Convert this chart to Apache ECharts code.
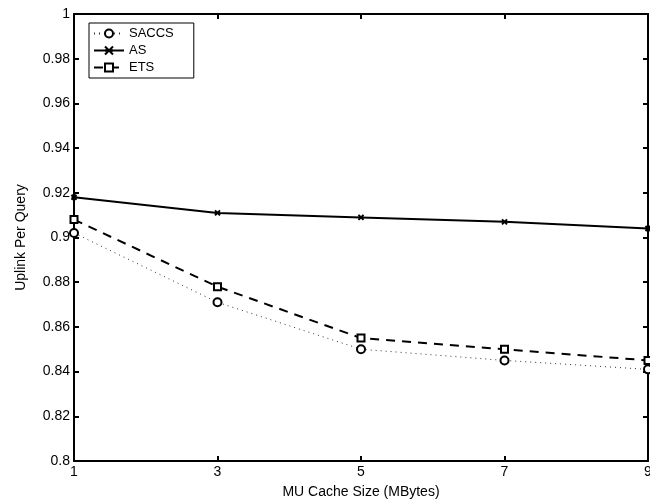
<!DOCTYPE html>
<html>
<head>
<meta charset="utf-8">
<script src="https://cdn.jsdelivr.net/npm/echarts@6/dist/echarts.min.js"></script>
<style>html,body{margin:0;padding:0;background:#fff;}#c{width:650px;height:503px;}</style>
</head>
<body>
<div id="c"></div>
<script>
const xValues = [1, 3, 5, 7, 9];
const saccs = [0.902, 0.871, 0.850, 0.845, 0.841];
const as = [0.918, 0.911, 0.909, 0.907, 0.904];
const ets = [0.908, 0.878, 0.855, 0.850, 0.845];
const xTitle = 'MU Cache Size (MBytes)';
const yTitle = 'Uplink Per Query';

const pair = arr => xValues.map((x, i) => [x, arr[i]]);
const font = 'Liberation Sans';
const fmt = v => String(+v.toFixed(2));

const chart = echarts.init(document.getElementById('c'));
chart.setOption({
  animation: false,
  backgroundColor: '#fff',
  textStyle: { fontFamily: font },
  grid: { left: 74, right: 2, top: 14, bottom: 42, outerBoundsMode: 'none', containLabel: false },
  legend: {
    orient: 'vertical', left: 89, top: 23,
    itemWidth: 30, itemHeight: 10, itemGap: 4,
    padding: [4, 20, 4, 4],
    borderColor: '#000', borderWidth: 1, backgroundColor: '#fff',
    textStyle: { fontFamily: font, fontSize: 13, color: '#000' },
    data: ['SACCS', 'AS', 'ETS']
  },
  xAxis: [{
    type: 'value', min: 1, max: 9, interval: 2,
    name: xTitle, nameLocation: 'middle', nameGap: 24,
    nameTextStyle: { fontFamily: font, fontSize: 14, color: '#000' },
    axisLine: { lineStyle: { color: '#000', width: 2 } },
    axisTick: { inside: true, length: 5, lineStyle: { color: '#000', width: 2 } },
    axisLabel: { color: '#000', fontSize: 14, fontFamily: font, margin: 4 },
    splitLine: { show: false }
  }, {
    type: 'value', min: 1, max: 9, interval: 2, position: 'top',
    axisLine: { lineStyle: { color: '#000', width: 2 } },
    axisTick: { inside: true, length: 5, lineStyle: { color: '#000', width: 2 } },
    axisLabel: { show: false }, splitLine: { show: false }
  }],
  yAxis: [{
    type: 'value', min: 0.8, max: 1, interval: 0.02,
    name: yTitle, nameLocation: 'middle', nameGap: 46,
    nameTextStyle: { fontFamily: font, fontSize: 14, color: '#000' },
    axisLine: { lineStyle: { color: '#000', width: 2 } },
    axisTick: { inside: true, length: 5, lineStyle: { color: '#000', width: 2 } },
    axisLabel: { color: '#000', fontSize: 14, fontFamily: font, margin: 4, formatter: fmt },
    splitLine: { show: false }
  }, {
    type: 'value', min: 0.8, max: 1, interval: 0.02, position: 'right',
    axisLine: { lineStyle: { color: '#000', width: 2 } },
    axisTick: { inside: true, length: 5, lineStyle: { color: '#000', width: 2 } },
    axisLabel: { show: false }, splitLine: { show: false }
  }],
  series: [{
    name: 'SACCS', type: 'line', data: pair(saccs),
    symbol: 'circle', symbolSize: 8, showAllSymbol: true,
    lineStyle: { color: '#333', width: 1, type: [1, 4] },
    itemStyle: { color: '#fff', borderColor: '#000', borderWidth: 2 }
  }, {
    name: 'AS', type: 'line', data: pair(as),
    symbol: 'path://M0,0L10,10M10,0L0,10M0,5L10,5', symbolSize: 5,
    lineStyle: { color: '#000', width: 2, type: 'solid' },
    itemStyle: { color: '#000', borderColor: '#000', borderWidth: 2 }
  }, {
    name: 'ETS', type: 'line', data: pair(ets),
    symbol: 'rect', symbolSize: 7,
    lineStyle: { color: '#000', width: 2, type: [9, 7] },
    itemStyle: { color: '#fff', borderColor: '#000', borderWidth: 2 }
  }]
});
</script>
</body>
</html>
